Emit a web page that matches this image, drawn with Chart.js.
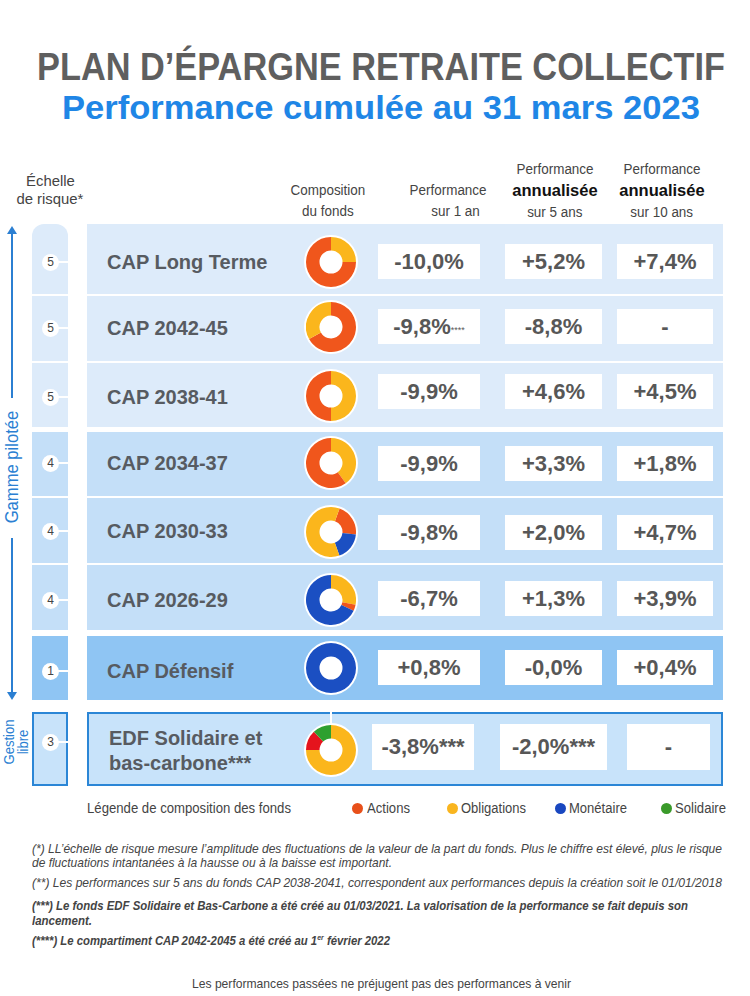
<!DOCTYPE html>
<html lang="fr">
<head>
<meta charset="utf-8">
<title>PER Collectif - Performance cumulée au 31 mars 2023</title>
<script src="https://cdn.jsdelivr.net/npm/chart.js@4.4.1/dist/chart.umd.min.js"></script>
<style>
  html, body { margin: 0; padding: 0; background: #fff; }
  #page { position: relative; width: 750px; height: 996px; overflow: hidden; font-family: "Liberation Sans", Arial, sans-serif; }
  .abs { position: absolute; white-space: nowrap; }
  .fit { display: inline-block; transform-origin: 0 50%; white-space: nowrap; }
  .row { position: absolute; left: 87px; width: 636px; box-sizing: border-box; }
  .cell { position: absolute; left: 32px; width: 36px; box-sizing: border-box; }
  .num { position: absolute; left: 10px; width: 17px; height: 17px; border-radius: 50%; background: #fff;
         font-size: 12px; line-height: 17px; text-align: center; color: #444; }
  .tick { position: absolute; left: 26px; width: 10px; height: 2px; background: #fff; }
  .fund { position: absolute; left: 20px; font-weight: bold; font-size: 20px; color: #575b61; line-height: 25px; white-space: nowrap; }
  .val { position: absolute; background: #fff; font-weight: bold; font-size: 22px; color: #575757; text-align: center; }
  .val small { font-size: 9px; font-weight: normal; vertical-align: 1px; }
  .donut { position: absolute; width: 54px; height: 54px; border-radius: 50%; background: #fff; }
  .donut canvas { position: absolute; left: 2px; top: 2px; }
  .hdr { position: absolute; text-align: center; font-size: 14px; color: #444; line-height: 21px; white-space: nowrap; }
  .hdr span { display: inline-block; transform: scaleX(0.96); }
  .hdr b { font-size: 16.5px; color: #111; }
  .note { position: absolute; left: 32px; font-style: italic; font-size: 13px; color: #444; line-height: 15px; white-space: nowrap; }
  .dot { position: absolute; width: 11px; height: 11px; border-radius: 50%; }
</style>
</head>
<body>
<div id="page">
  <div class="abs" style="left:37px; top:46px; font-size:38px; font-weight:bold; color:#5f5f5f;"><span class="fit" data-w="688">PLAN D’ÉPARGNE RETRAITE COLLECTIF</span></div>
  <div class="abs" style="left:62px; top:88px; font-size:34px; font-weight:bold; color:#1f86e6;"><span class="fit" data-w="638">Performance cumulée au 31 mars 2023</span></div>

  <div class="hdr" style="left:8px; width:84px; top:172px; font-size:15.5px; line-height:18px;"><span>Échelle</span><br><span>de risque*</span></div>
  <div class="hdr" style="left:278px; width:100px; top:180px;"><span>Composition</span><br><span>du fonds</span></div>
  <div class="hdr" style="left:396px; width:105px; top:180px;"><span>Performance</span><br><span>&nbsp;&nbsp;&nbsp;&nbsp;sur 1 an</span></div>
  <div class="hdr" style="left:505px; width:100px; top:159px;"><span>Performance</span><br><b>annualisée</b><br><span>sur 5 ans</span></div>
  <div class="hdr" style="left:612px; width:100px; top:159px;"><span>Performance</span><br><b>annualisée</b><br><span>sur 10 ans</span></div>

  <div id="table"></div>

  <div class="abs" style="left:87px; top:800px; font-size:14px; color:#444;"><span class="fit" data-w="204">Légende de composition des fonds</span></div>
  <div id="legend"></div>

  <div class="note" style="top:841px;"><span class="fit" data-w="690">(*) LL’échelle de risque mesure l’amplitude des fluctuations de la valeur de la part du fonds. Plus le chiffre est élevé, plus le risque</span></div>
  <div class="note" style="top:855px;"><span class="fit" data-w="360">de fluctuations intantanées à la hausse ou à la baisse est important.</span></div>
  <div class="note" style="top:875px;"><span class="fit" data-w="690">(**) Les performances sur 5 ans du fonds CAP 2038-2041, correspondent aux performances depuis la création soit le 01/01/2018</span></div>
  <div class="note" style="top:898px; font-weight:bold;"><span class="fit" data-w="656">(***) Le fonds EDF Solidaire et Bas-Carbone a été créé au 01/03/2021. La valorisation de la performance se fait depuis son</span></div>
  <div class="note" style="top:913px; font-weight:bold;"><span class="fit" data-w="60">lancement.</span></div>
  <div class="note" style="top:933px; font-weight:bold;"><span class="fit" data-w="358">(****) Le compartiment CAP 2042-2045 a été créé au 1<sup style="font-size:8px; line-height:0;">er</sup> février 2022</span></div>
  <div class="abs" style="left:192px; top:976px; font-size:13.5px; color:#444;"><span class="fit" data-w="379">Les performances passées ne préjugent pas des performances à venir</span></div>
</div>

<script>
// ---- données ----
const fonds = ['CAP Long Terme', 'CAP 2042-45', 'CAP 2038-41', 'CAP 2034-37', 'CAP 2030-33', 'CAP 2026-29', 'CAP Défensif', 'EDF Solidaire et<br>bas-carbone***'];
const risque = [5, 5, 5, 4, 4, 4, 1, 3];
const perf1an = [-10.0, -9.8, -9.9, -9.9, -9.8, -6.7, 0.8, -3.8];
const perf5ans = [5.2, -8.8, 4.6, 3.3, 2.0, 1.3, -0.0, -2.0];
const perf10ans = [7.4, null, 4.5, 1.8, 4.7, 3.9, 0.4, null];
const renvoi1an = ['', '****', '', '', '', '', '', '***'];
const renvoi5ans = ['', '', '', '', '', '', '', '***'];

const composants = ['Actions', 'Obligations', 'Monétaire', 'Solidaire'];
const actions = [75, 67, 50, 60, 21, 4, 0, 13];
const obligations = [25, 33, 50, 40, 61, 28, 0, 75];
const monetaire = [0, 0, 0, 0, 18, 68, 100, 0];
const solidaire = [0, 0, 0, 0, 0, 0, 0, 12];

// ---- mise en forme ----
const couleurs = ['#f0561c', '#fbb61c', '#1b4fc2', '#2ea02f'];
const couleursLegende = ['#e8501a', '#f9b51f', '#1947c0', '#3a9a2a'];
const rougeEDF = '#e5141d';
// ordre de tracé des parts (sens horaire depuis midi) et rotation de départ
const ordre = [[1, 0], [0, 1], [1, 0], [1, 0], [0, 2, 1], [1, 0, 2], [2], [1, 0, 3]];
const rotation = [0, 0, 0, 0, 20, 0, 0, 0];

const rowTop = [224, 296, 363, 432, 498, 565, 636, 712];
const rowBot = [294, 361, 427, 496, 563, 630, 700, 786];
const rowBg = ['#ddebfa', '#ddebfa', '#ddebfa', '#c4dff8', '#c4dff8', '#c4dff8', '#8fc5f3', '#c8e3fa'];
const nameY = [262, 328, 397, 463, 531, 600, 671, 751];
const valY = [261, 326, 391, 463, 532, 598, 667, 747];
const donutY = [262, 327, 396, 463, 532, 600, 668, 750];
const cols = [[378, 102], [505, 97], [617, 96]];
const colsEDF = [[372, 102], [500, 107], [627, 83]];

function fmt(v) {
  if (v === null) return '-';
  const neg = v < 0 || Object.is(v, -0);
  return (neg ? '-' : '+') + Math.abs(v).toFixed(1).replace('.', ',') + '%';
}

const table = document.getElementById('table');
const page = document.getElementById('page');

function add(parent, cls, style, html) {
  const d = document.createElement('div');
  d.className = cls;
  Object.assign(d.style, style);
  if (html !== undefined) d.innerHTML = html;
  parent.appendChild(d);
  return d;
}

fonds.forEach((nom, i) => {
  const top = rowTop[i], h = rowBot[i] - rowTop[i];
  const edf = i === 7;
  const border = edf ? '2px solid #2b86d6' : 'none';

  // case échelle de risque
  const c = add(table, 'cell', { top: top + 'px', height: h + 'px', background: rowBg[i], border: border,
    borderRadius: i === 0 ? '12px 12px 0 0' : '0' });
  const cy = edf ? 28 : nameY[i] - top;
  add(c, 'tick', { top: (cy - 1) + 'px', left: edf ? '24px' : '26px' });
  add(c, 'num', { top: (cy - 8.5) + 'px', left: edf ? '8px' : '10px' }, risque[i]);

  // ligne du fonds
  const r = add(table, 'row', { top: top + 'px', height: h + 'px', background: rowBg[i], border: border });
  const lines = edf ? 2 : 1;
  add(r, 'fund', { top: (nameY[i] - top - 12.5 * lines - (edf ? 2 : 0)) + 'px' }, nom);

  // performances
  const cc = edf ? colsEDF : cols;
  const bh = edf ? 46 : 35;
  const vals = [fmt(perf1an[i]), fmt(perf5ans[i]), fmt(perf10ans[i])];
  const notes = [renvoi1an[i], renvoi5ans[i], ''];
  vals.forEach((v, k) => {
    let txt = v;
    if (notes[k]) txt += edf ? notes[k] : '<small>' + notes[k] + '</small>';
    add(page, 'val abs', { left: cc[k][0] + 'px', width: cc[k][1] + 'px', top: (valY[i] - bh / 2) + 'px',
      height: bh + 'px', lineHeight: bh + 'px' }, txt);
  });

  // composition (donut)
  const d = add(page, 'donut', { left: (331 - 27) + 'px', top: (donutY[i] - 27) + 'px' });
  const cv = document.createElement('canvas');
  cv.width = 50; cv.height = 50;
  cv.style.width = '50px'; cv.style.height = '50px';
  d.appendChild(cv);
  const parts = [actions[i], obligations[i], monetaire[i], solidaire[i]];
  const coul = couleurs.slice();
  if (edf) coul[0] = rougeEDF;
  new Chart(cv, {
    type: 'doughnut',
    data: {
      labels: ordre[i].map(k => composants[k]),
      datasets: [{
        data: ordre[i].map(k => parts[k]),
        backgroundColor: ordre[i].map(k => coul[k]),
        borderWidth: 0
      }]
    },
    options: {
      responsive: false,
      animation: false,
      cutout: '46%',
      rotation: rotation[i],
      plugins: { legend: { display: false }, tooltip: { enabled: false } },
      events: []
    }
  });
});

// trait blanc entre les deux derniers donuts
add(page, 'abs', { left: '330px', top: '700px', width: '2px', height: '24px', background: '#fff' });

// flèche "Gamme pilotée"
const bleu = '#2b7fd2';
add(page, 'abs', { left: '11px', top: '232px', width: '1.5px', height: '166px', background: bleu });
add(page, 'abs', { left: '11px', top: '538px', width: '1.5px', height: '156px', background: bleu });
add(page, 'abs', { left: '7px', top: '226px', width: 0, height: 0, borderLeft: '5px solid transparent',
  borderRight: '5px solid transparent', borderBottom: '8px solid ' + bleu });
add(page, 'abs', { left: '7px', top: '692px', width: 0, height: 0, borderLeft: '5px solid transparent',
  borderRight: '5px solid transparent', borderTop: '8px solid ' + bleu });
add(page, 'abs', { left: '12px', top: '467px', fontSize: '17.5px', color: bleu,
  transform: 'translate(-50%,-50%) rotate(-90deg) scaleX(0.95)' }, 'Gamme pilotée');
add(page, 'abs', { left: '16px', top: '742px', fontSize: '14.5px', color: bleu, lineHeight: '14px', textAlign: 'center',
  transform: 'translate(-50%,-50%) rotate(-90deg) scaleX(0.9)' }, 'Gestion<br>libre');

// légende
const legDot = [352, 447, 555, 661];
const legTxt = [[367, 43], [461, 65], [569, 58], [675, 51]];
const legend = document.getElementById('legend');
composants.forEach((nom, k) => {
  add(legend, 'dot', { left: legDot[k] + 'px', top: '803px', background: couleursLegende[k] });
  add(legend, 'abs', { left: legTxt[k][0] + 'px', top: '800px', fontSize: '14px', color: '#444' },
    '<span class="fit" data-w="' + legTxt[k][1] + '">' + nom + '</span>');
});

// ajustement des largeurs de texte
document.querySelectorAll('.fit[data-w]').forEach(el => {
  const w = +el.dataset.w;
  el.style.transform = 'scaleX(' + (w / el.getBoundingClientRect().width) + ')';
});
</script>
</body>
</html>
